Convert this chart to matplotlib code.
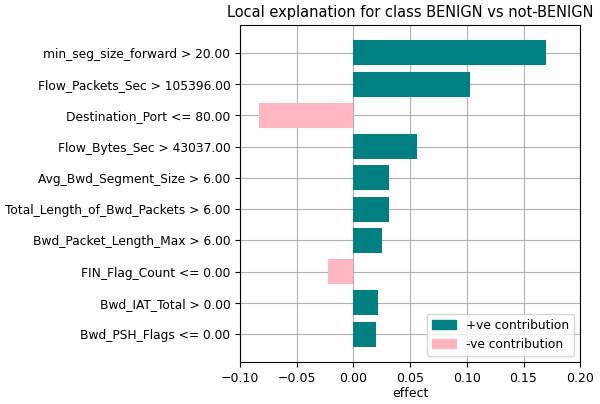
import matplotlib
matplotlib.use("Agg")
import matplotlib.pyplot as plt
from matplotlib.patches import Patch

# LIME-style explanation, top feature first
features = [
    "min_seg_size_forward > 20.00",
    "Flow_Packets_Sec > 105396.00",
    "Destination_Port <= 80.00",
    "Flow_Bytes_Sec > 43037.00",
    "Avg_Bwd_Segment_Size > 6.00",
    "Total_Length_of_Bwd_Packets > 6.00",
    "Bwd_Packet_Length_Max > 6.00",
    "FIN_Flag_Count <= 0.00",
    "Bwd_IAT_Total > 0.00",
    "Bwd_PSH_Flags <= 0.00",
]
effects = [0.170, 0.103, -0.083, 0.056, 0.031, 0.031, 0.025, -0.022, 0.022, 0.020]

POS = "teal"; NEG = "lightpink"

fig, ax = plt.subplots(figsize=(6.0, 4.04), dpi=100)
fig.subplots_adjust(left=0.40, right=0.967, top=0.938, bottom=0.104)

# reverse so first feature ends up on top
vals = effects[::-1]
names = features[::-1]
colors = [POS if v > 0 else NEG for v in vals]
ypos = range(len(vals))
ax.barh(ypos, vals, color=colors, zorder=2)
ax.set_yticks(list(ypos))
ax.set_yticklabels(names, fontsize=8.8)

ax.set_xlim(-0.10, 0.20)
ax.set_xticks([-0.10, -0.05, 0.00, 0.05, 0.10, 0.15, 0.20])
ax.set_xticklabels(["\u22120.10", "\u22120.05", "0.00", "0.05", "0.10", "0.15", "0.20"], fontsize=9)
ax.set_xlabel("effect", fontsize=9, labelpad=2)
ax.set_title("Local explanation for class BENIGN vs not-BENIGN", fontsize=10.5)
ax.grid(True, color="#b0b0b0", linewidth=0.8, zorder=0)
ax.set_axisbelow(True)

handles = [Patch(color=POS, label="+ve contribution"),
           Patch(color=NEG, label="-ve contribution")]
ax.legend(handles=handles, loc="lower right", fontsize=8.8)

plt.savefig("out.png", dpi=100)
